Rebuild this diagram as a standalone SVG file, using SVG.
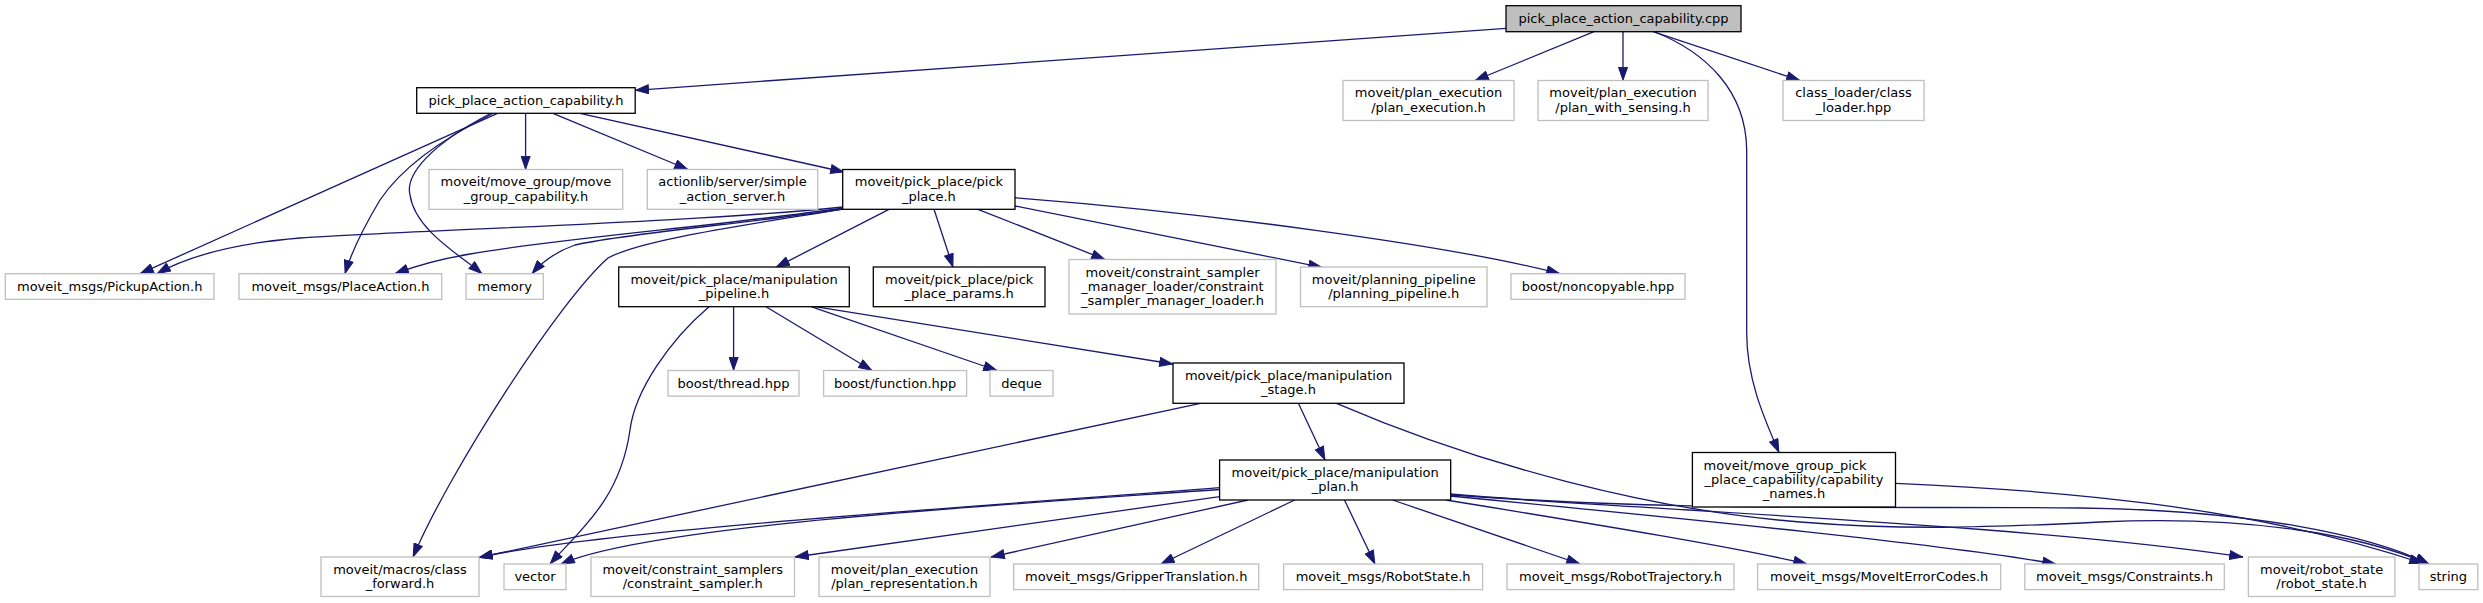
<svg xmlns="http://www.w3.org/2000/svg" width="2483" height="603" viewBox="0 0 2483 603">
<style>
.n rect{fill:#fff;stroke:#bfbfbf;stroke-width:1.3}
.n.d rect{stroke:#000}
.n.root rect{fill:#bfbfbf;stroke:#000}
text{font-family:"DejaVu Sans","Liberation Sans",sans-serif;font-size:13px;fill:#000;text-anchor:middle}
#edges path{fill:none;stroke:#191970;stroke-width:1.3;marker-end:url(#arr)}
</style>
<defs>
<marker id="arr" markerUnits="userSpaceOnUse" markerWidth="14" markerHeight="10" viewBox="0 0 13 9.4" refX="13" refY="4.7" orient="auto">
<path d="M0.5,0.5 L12.5,4.7 L0.5,8.9 z" fill="#191970" stroke="#191970" stroke-width="1"/>
</marker>
</defs>
<rect x="0" y="0" width="2483" height="603" fill="#fff"/>
<g id="edges">
<path d="M1506,28.3 L635.2,90.3"/>
<path d="M1594,31.7 L1475,80.5"/>
<path d="M1623,31.7 L1623,80.5"/>
<path d="M1653,31.7 L1800,80.5"/>
<path d="M1655,32 C1705,52 1746,90 1746.7,150 L1746.7,333 C1746.7,380 1765,420 1779,452.5"/>
<path d="M497.5,113.3 L140,273.7"/>
<path d="M492,114 C440,140 400,170 380,200 C365,225 352,250 345,273.7"/>
<path d="M489.6,114 C430,145 405,175 410,195 C415,230 460,255 482,273.7"/>
<path d="M525.6,113.3 L525.6,169.5"/>
<path d="M553,113.3 L688,169.5"/>
<path d="M580,113.3 L844,172"/>
<path d="M843,207 C700,222 420,230 300,238 C240,243 190,255 157,273.7"/>
<path d="M843,208 C720,226 560,238 470,254 C440,259 415,266 395,273.7"/>
<path d="M843,209 C760,222 620,234 575,245 C555,252 542,262 532,273.7"/>
<path d="M843,209 C740,226 640,240 608,258 C560,300 450,470 413,557"/>
<path d="M889,209.3 L776,267.3"/>
<path d="M934,209.3 L953,267.3"/>
<path d="M978,209.3 L1105,259.5"/>
<path d="M1015,206 L1322,267.3"/>
<path d="M1015,197.7 C1200,212 1450,245 1560,273.7"/>
<path d="M709,306.7 C670,340 635,390 630,430 C620,500 580,530 550,564"/>
<path d="M733.6,306.7 L733.6,370.5"/>
<path d="M766,306.7 L872,370.5"/>
<path d="M811,306.7 L997,370.5"/>
<path d="M815,306.7 L1173,364"/>
<path d="M1200.5,403.3 L479,557.5"/>
<path d="M1298.4,403.3 L1325,460"/>
<path d="M1336.5,403.3 C1480,465 1650,510 1800,522 C1900,530 1980,528 2100,522 C2250,515 2360,535 2429,564"/>
<path d="M1895.5,483.3 C2050,490 2250,505 2423,563.5"/>
<path d="M1219.6,487.7 C1000,505 600,530 479,557.5"/>
<path d="M1219.6,489.5 C1000,505 650,525 561,564"/>
<path d="M1219.6,496.7 L795,557"/>
<path d="M1248,500 L991,557"/>
<path d="M1294.7,500 L1160.8,564"/>
<path d="M1344.5,500 L1375,564"/>
<path d="M1392.6,500 L1580,564"/>
<path d="M1446,500 C1600,525 1740,548 1807,564"/>
<path d="M1450,496 C1700,520 1950,545 2056,564"/>
<path d="M1450,495 C1750,515 2050,528 2243,557"/>
<path d="M1450,494 C1650,512 1900,506 2080,508 C2250,510 2370,535 2429,564"/>
</g>
<g id="n_cpp" class="n root"><rect x="1506" y="5.7" width="235" height="26"/><text x="1623.5" y="22.9">pick_place_action_capability.cpp</text></g>
<g id="n_pph" class="n d"><rect x="416.7" y="87.7" width="218.5" height="25.6"/><text x="526" y="104.7">pick_place_action_capability.h</text></g>
<g id="n_planexec" class="n"><rect x="1343" y="80.5" width="171" height="40"/><text x="1428.5" y="97.4">moveit/plan_execution</text><text x="1428.5" y="111.6">/plan_execution.h</text></g>
<g id="n_sensing" class="n"><rect x="1538" y="80.5" width="170" height="40"/><text x="1623" y="97.4">moveit/plan_execution</text><text x="1623" y="111.6">/plan_with_sensing.h</text></g>
<g id="n_classloader" class="n"><rect x="1783" y="80.5" width="141" height="40"/><text x="1853.5" y="97.4">class_loader/class</text><text x="1853.5" y="111.6">_loader.hpp</text></g>
<g id="n_mgcap" class="n"><rect x="429" y="169.5" width="193.7" height="39.8"/><text x="525.9" y="186.3">moveit/move_group/move</text><text x="525.9" y="200.5">_group_capability.h</text></g>
<g id="n_sas" class="n"><rect x="647.3" y="169.5" width="170.4" height="39.8"/><text x="732.5" y="186.3">actionlib/server/simple</text><text x="732.5" y="200.5">_action_server.h</text></g>
<g id="n_pickplace" class="n d"><rect x="842.7" y="169.5" width="172.3" height="39.8"/><text x="928.9" y="186.3">moveit/pick_place/pick</text><text x="928.9" y="200.5">_place.h</text></g>
<g id="n_pickup" class="n"><rect x="5.3" y="273.7" width="208.7" height="25.6"/><text x="109.7" y="290.7">moveit_msgs/PickupAction.h</text></g>
<g id="n_placeaction" class="n"><rect x="239" y="273.7" width="202.7" height="25.6"/><text x="340.4" y="290.7">moveit_msgs/PlaceAction.h</text></g>
<g id="n_memory" class="n"><rect x="466" y="273.7" width="77.3" height="25.6"/><text x="504.7" y="290.7">memory</text></g>
<g id="n_pipeline" class="n d"><rect x="618.7" y="267" width="230.6" height="39.7"/><text x="734" y="283.8">moveit/pick_place/manipulation</text><text x="734" y="298">_pipeline.h</text></g>
<g id="n_params" class="n d"><rect x="873.3" y="267" width="171.7" height="39.7"/><text x="959.2" y="283.8">moveit/pick_place/pick</text><text x="959.2" y="298">_place_params.h</text></g>
<g id="n_csml" class="n"><rect x="1069" y="259.5" width="207" height="54.5"/><text x="1172.5" y="276.6">moveit/constraint_sampler</text><text x="1172.5" y="290.8">_manager_loader/constraint</text><text x="1172.5" y="305">_sampler_manager_loader.h</text></g>
<g id="n_planpipe" class="n"><rect x="1300.5" y="267" width="186.5" height="39.7"/><text x="1393.75" y="283.8">moveit/planning_pipeline</text><text x="1393.75" y="298">/planning_pipeline.h</text></g>
<g id="n_noncopy" class="n"><rect x="1511" y="273.7" width="174" height="25.6"/><text x="1598" y="290.7">boost/noncopyable.hpp</text></g>
<g id="n_thread" class="n"><rect x="668" y="370.5" width="131" height="25.6"/><text x="733.5" y="387.5">boost/thread.hpp</text></g>
<g id="n_function" class="n"><rect x="823.6" y="370.5" width="143" height="25.6"/><text x="895.1" y="387.5">boost/function.hpp</text></g>
<g id="n_deque" class="n"><rect x="990" y="370.5" width="63" height="25.6"/><text x="1021.5" y="387.5">deque</text></g>
<g id="n_stage" class="n d"><rect x="1173" y="363" width="231" height="40.3"/><text x="1288.5" y="380">moveit/pick_place/manipulation</text><text x="1288.5" y="394.2">_stage.h</text></g>
<g id="n_plan" class="n d"><rect x="1219.6" y="460" width="231.1" height="40"/><text x="1335.15" y="476.8">moveit/pick_place/manipulation</text><text x="1335.15" y="491">_plan.h</text></g>
<g id="n_capnames" class="n d"><rect x="1692.4" y="452.5" width="203.1" height="54.5"/><text x="1785" y="469.5">moveit/move_group_pick</text><text x="1794" y="483.7">_place_capability/capability</text><text x="1794" y="497.9">_names.h</text></g>
<g id="n_classfwd" class="n"><rect x="321" y="557" width="158" height="39.5"/><text x="400" y="573.7">moveit/macros/class</text><text x="400" y="587.9">_forward.h</text></g>
<g id="n_vector" class="n"><rect x="504" y="564" width="62" height="25.6"/><text x="535" y="581">vector</text></g>
<g id="n_csampler" class="n"><rect x="591" y="557" width="203.5" height="39.5"/><text x="692.75" y="573.7">moveit/constraint_samplers</text><text x="692.75" y="587.9">/constraint_sampler.h</text></g>
<g id="n_planrep" class="n"><rect x="819" y="557" width="171" height="39.5"/><text x="904.5" y="573.7">moveit/plan_execution</text><text x="904.5" y="587.9">/plan_representation.h</text></g>
<g id="n_gripper" class="n"><rect x="1013.7" y="564" width="245" height="25.6"/><text x="1136.2" y="581">moveit_msgs/GripperTranslation.h</text></g>
<g id="n_robotstate" class="n"><rect x="1283.6" y="564" width="199" height="25.6"/><text x="1383.1" y="581">moveit_msgs/RobotState.h</text></g>
<g id="n_robottraj" class="n"><rect x="1507" y="564" width="227" height="25.6"/><text x="1620.5" y="581">moveit_msgs/RobotTrajectory.h</text></g>
<g id="n_errcodes" class="n"><rect x="1757.6" y="564" width="243.1" height="25.6"/><text x="1879.2" y="581">moveit_msgs/MoveItErrorCodes.h</text></g>
<g id="n_constraints" class="n"><rect x="2024.8" y="564" width="199.5" height="25.6"/><text x="2124.5" y="581">moveit_msgs/Constraints.h</text></g>
<g id="n_rstate" class="n"><rect x="2248.4" y="557" width="146.5" height="39.5"/><text x="2321.6" y="573.7">moveit/robot_state</text><text x="2321.6" y="587.9">/robot_state.h</text></g>
<g id="n_string" class="n"><rect x="2419" y="564" width="58.8" height="25.6"/><text x="2448.4" y="581">string</text></g>
</svg>
